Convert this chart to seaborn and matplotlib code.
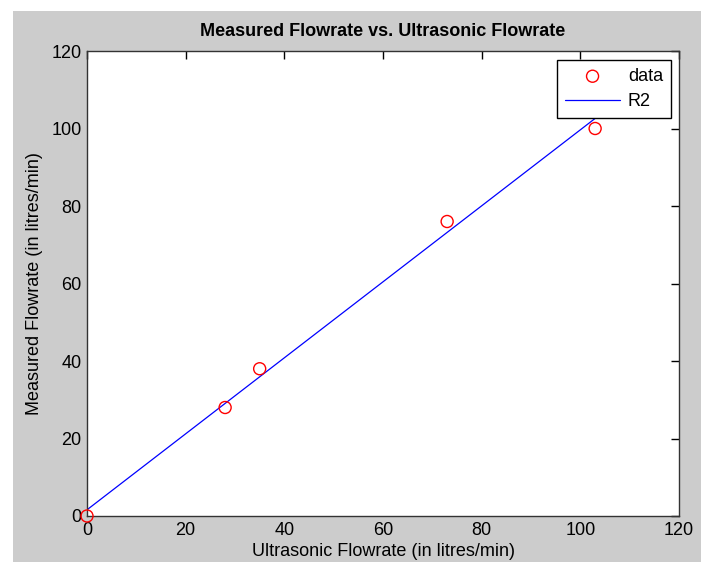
import matplotlib
matplotlib.use("Agg")
import matplotlib.pyplot as plt
import matplotlib.patches as mpatches
import pandas as pd
import seaborn as sns

# data
ultrasonic = [0, 28, 35, 73, 103]
measured = [0, 28, 38, 76, 100]

# fitted line end points (R2 fit)
fit_x = [0, 103]
fit_y = [1.6, 102.6]

df = pd.DataFrame({'Ultrasonic': ultrasonic, 'Measured': measured})
df_fit = pd.DataFrame({'Ultrasonic': fit_x, 'Measured': fit_y})

sns.set_style('white')
plt.rcParams['font.family'] = ['Liberation Sans', 'DejaVu Sans']
plt.rcParams['text.color'] = 'black'
plt.rcParams['axes.labelcolor'] = 'black'

fig = plt.figure(figsize=(7.01, 5.62), dpi=100)
fig.patch.set_facecolor('white')
# matlab grey figure background (behind the axes)
fig.patches.append(mpatches.Rectangle((13 / 701, 0), 1, 551 / 562, transform=fig.transFigure,
                                      facecolor='#cccccc', edgecolor='none', zorder=-10))

ax = fig.add_axes([87 / 701, 46 / 562, 592 / 701, 465 / 562])
ax.set_facecolor('white')

sns.scatterplot(x='Ultrasonic', y='Measured', data=df, ax=ax, marker='o', s=75,
                facecolors='none', edgecolor='red', linewidth=1.0, label='data', zorder=3,
                clip_on=False)
sns.lineplot(x='Ultrasonic', y='Measured', data=df_fit, ax=ax, color='blue',
             linewidth=0.9, label='R2', zorder=2)

ax.set_xlim(0, 120)
ax.set_ylim(0, 120)
ax.set_xticks(range(0, 121, 20))
ax.set_yticks(range(0, 121, 20))
ax.tick_params(direction='in', length=6, width=1, top=True, right=True, labelsize=13,
               colors='black', pad=4)
for s in ax.spines.values():
    s.set_color('#333333')
    s.set_linewidth(1)

ax.set_title('Measured Flowrate vs. Ultrasonic Flowrate', fontsize=13, fontweight='bold', pad=11)
ax.set_xlabel('Ultrasonic Flowrate (in litres/min)', fontsize=13, labelpad=3)
ax.set_ylabel('Measured Flowrate (in litres/min)', fontsize=13, labelpad=6)

leg = ax.legend(loc='upper right', bbox_to_anchor=(0.9865, 0.981), fontsize=13, frameon=True,
                fancybox=False, edgecolor='black', framealpha=1, borderpad=0.45,
                handlelength=3.0, handletextpad=0.45, labelspacing=0.45, borderaxespad=0)
leg.get_frame().set_linewidth(1)
for t in leg.get_texts():
    t.set_color('black')

fig.savefig('out.png', dpi=100)
